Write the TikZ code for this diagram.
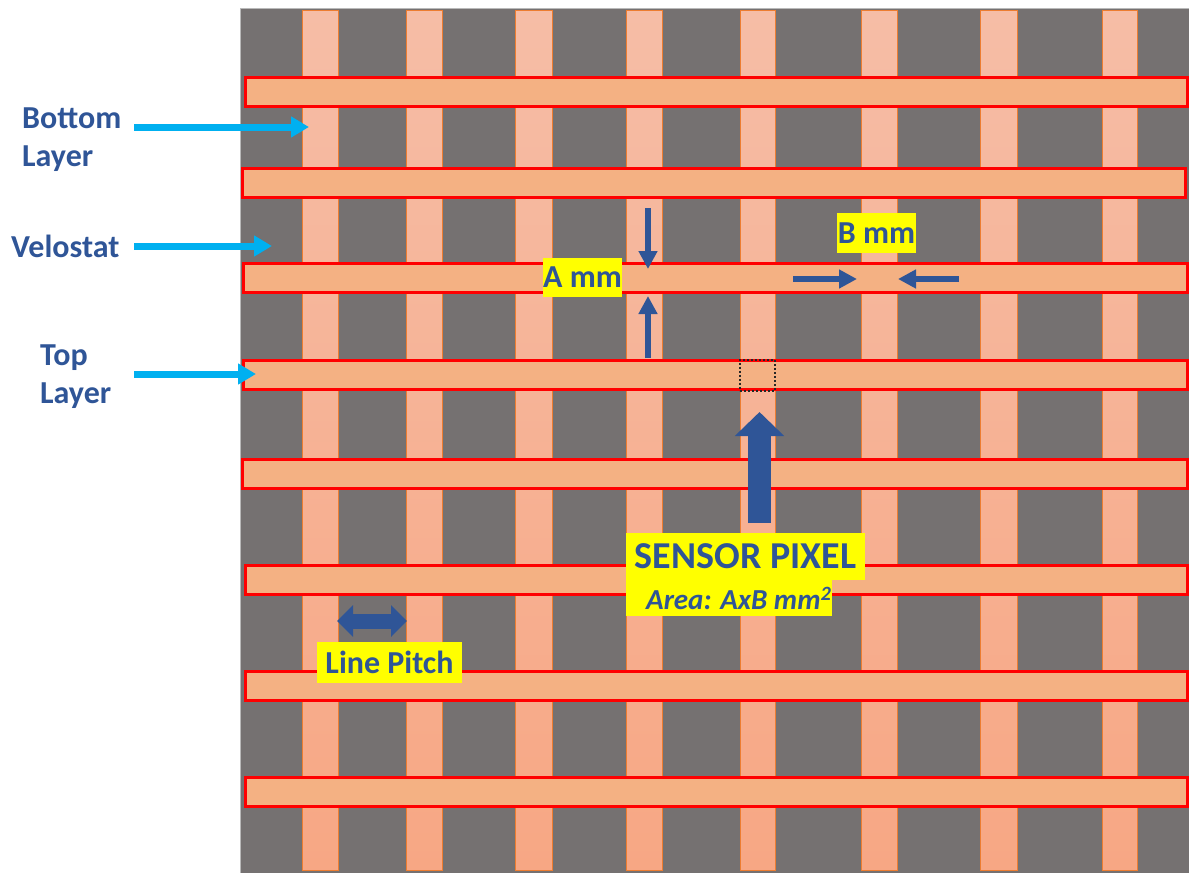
\documentclass[tikz,border=0pt]{standalone}
\usepackage{fontspec}
\setmainfont{Carlito}
\usetikzlibrary{arrows.meta}
\definecolor{bggray}{RGB}{117,113,113}
\definecolor{vtop}{RGB}{246,189,166}
\definecolor{vbot}{RGB}{247,167,132}
\definecolor{vedge}{RGB}{237,125,49}
\definecolor{hfill}{RGB}{244,177,131}
\definecolor{tblue}{RGB}{47,85,151}
\definecolor{acyan}{RGB}{0,176,240}
\definecolor{ylw}{RGB}{255,255,0}
\begin{document}
\begin{tikzpicture}[x=1pt,y=-1pt,
  vstrip/.style={top color=vtop, bottom color=vbot, draw=vedge, line width=1pt},
  hstrip/.style={fill=hfill, draw=red, line width=3pt},
  lbl/.style={text=tblue, font=\bfseries\fontsize{32}{38}\selectfont, inner sep=0pt, align=left, anchor=north west},
  ylab/.style={fill=ylw, text=tblue, font=\bfseries\fontsize{32}{38}\selectfont, inner sep=0pt},
  cyanarr/.style={draw=acyan, line width=7pt, -{Triangle[length=18pt,width=20pt]}},
  bluearr/.style={draw=tblue, line width=6pt, -{Triangle[length=18pt,width=18pt]}},
  bigarr/.style={draw=tblue, line width=23pt, -{Triangle[length=24pt,width=48pt]}},
  pitcharr/.style={draw=tblue, line width=15pt, {Triangle[length=16pt,width=31pt]}-{Triangle[length=16pt,width=31pt]}},
  pixbox/.style={draw=black!85, line width=2pt, dash pattern=on 2pt off 2pt}
]
\useasboundingbox (0,0) rectangle (1189,873);
% background
\fill[bggray] (240,8) rectangle (1189,873);
\draw[gray!55, line width=1pt] (240.5,873) -- (240.5,8.5) -- (1189,8.5);
% bottom layer (vertical strips)
\foreach \a/\b in {302/338,406/442,515/552,626/662,740/775,861/897,980/1017,1102/1137}
  \path[vstrip] (\a,10) rectangle (\b,870);
% top layer (horizontal strips)
\draw[hstrip] (245,77.5) rectangle (1187,106.5);
\draw[hstrip] (242.5,168.5) rectangle (1185,197.5);
\draw[hstrip] (243.5,263.5) rectangle (1187,292.5);
\draw[hstrip] (243.5,360.5) rectangle (1187,389.5);
\draw[hstrip] (242.5,459.5) rectangle (1187,488.5);
\draw[hstrip] (245.5,565.5) rectangle (1187,594.5);
\draw[hstrip] (245.5,671.5) rectangle (1187,700.5);
\draw[hstrip] (245.5,777.5) rectangle (1187,806.5);
% sensor pixel
\node[pixbox, minimum width=35pt, minimum height=31pt, inner sep=0pt] (pix) at (757,375) {};
% left labels
\node[lbl] (bl) at (22,108) {Bottom\\Layer};
\node[lbl] (vel) at (11,235) {Velostat};
\node[lbl] (tl) at (40,345) {Top\\Layer};
\coordinate (blS) at (134,127); \coordinate (blE) at (309,127);
\coordinate (velS) at (134,246); \coordinate (velE) at (272,246);
\coordinate (tlS) at (134,374); \coordinate (tlE) at (256,374);
\draw[cyanarr] (blS) -- (blE);
\draw[cyanarr] (velS) -- (velE);
\draw[cyanarr] (tlS) -- (tlE);
% A mm
\node[ylab, minimum width=79pt, minimum height=39pt] (amm) at (582.5,277.5) {A mm};
\coordinate (aS1) at (648,208); \coordinate (aE1) at (648,269);
\coordinate (aS2) at (648,358); \coordinate (aE2) at (648,296);
\draw[bluearr] (aS1) -- (aE1);
\draw[bluearr] (aS2) -- (aE2);
% B mm
\node[ylab, minimum width=79pt, minimum height=40pt] (bmm) at (876.5,233) {B mm};
\coordinate (bS1) at (793,279); \coordinate (bE1) at (857,279);
\coordinate (bS2) at (959,279); \coordinate (bE2) at (898,279);
\draw[bluearr] (bS1) -- (bE1);
\draw[bluearr] (bS2) -- (bE2);
% sensor pixel label
\node[ylab, font=\bfseries\fontsize{38}{42}\selectfont, minimum width=239pt, minimum height=47pt] (sp) at (745.5,556.5) {SENSOR PIXEL};
\node[ylab, font=\bfseries\itshape\fontsize{29}{34}\selectfont, anchor=north west, minimum height=36pt] (area) at (626,580) {\hspace*{20pt}Area: AxB mm\textsuperscript{2}\hspace*{1pt}};
\coordinate (spS) at (759.5,523);
\coordinate (spE) at (759.5,412);
\draw[bigarr] (spS) -- (spE);
% line pitch
\node[ylab, minimum width=145pt, minimum height=41pt] (lp) at (389.5,662.5) {Line Pitch};
\coordinate (lpL) at (337,621); \coordinate (lpR) at (407,621);
\draw[pitcharr] (lpL) -- (lpR);
\end{tikzpicture}
\end{document}
